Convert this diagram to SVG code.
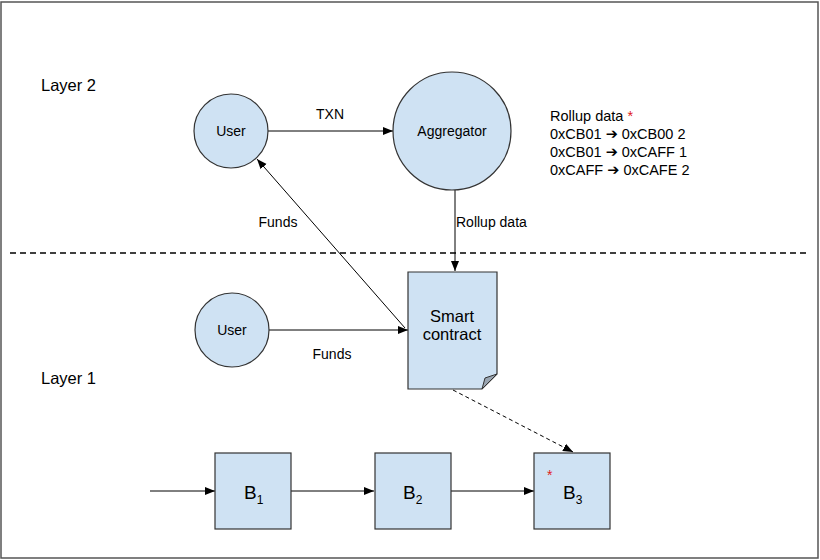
<svg xmlns="http://www.w3.org/2000/svg" width="820" height="560" viewBox="0 0 820 560">
<style>
.n{fill:#cfe2f3;stroke:#333;stroke-width:1.2}
.t{font-family:"Liberation Sans",Arial,sans-serif;fill:#000}
.c{stroke:#000;stroke-width:1;fill:none}
</style>
<defs>
<marker id="a" viewBox="0 0 10 10" refX="10" refY="5" markerWidth="10" markerHeight="10" markerUnits="userSpaceOnUse" orient="auto"><path d="M0,1 L10,5 L0,9 z" fill="#000"/></marker>
</defs>
<rect x="1" y="2" width="817" height="556" fill="#fff" stroke="#555" stroke-width="1.5"/>
<line x1="10" y1="253" x2="808" y2="253" stroke="#000" stroke-width="1.5" stroke-dasharray="6,4"/>
<text class="t" x="41" y="91" font-size="16.5">Layer 2</text>
<text class="t" x="41" y="384" font-size="16.5">Layer 1</text>
<g id="connectors">
<line class="c" x1="268" y1="131" x2="393" y2="131" marker-end="url(#a)"/>
<text class="t" x="330" y="119" font-size="14" text-anchor="middle">TXN</text>
<line class="c" x1="455" y1="190" x2="455" y2="271" marker-end="url(#a)"/>
<text class="t" x="456" y="227" font-size="14">Rollup data</text>
<line class="c" x1="405" y1="328" x2="257" y2="159" marker-end="url(#a)"/>
<text class="t" x="278" y="227" font-size="14" text-anchor="middle">Funds</text>
<line class="c" x1="269" y1="330" x2="408" y2="330" marker-end="url(#a)"/>
<text class="t" x="332" y="359" font-size="14" text-anchor="middle">Funds</text>
<line class="c" x1="453" y1="390" x2="573" y2="452" stroke-dasharray="4,3" marker-end="url(#a)"/>
<line class="c" x1="150" y1="491" x2="215" y2="491" marker-end="url(#a)"/>
<line class="c" x1="291" y1="491" x2="374" y2="491" marker-end="url(#a)"/>
<line class="c" x1="451" y1="491" x2="534" y2="491" marker-end="url(#a)"/>
</g>
<g id="user2">
<circle class="n" cx="231" cy="131" r="37"/>
<text class="t" x="231" y="136" font-size="14" text-anchor="middle">User</text>
</g>
<g id="aggregator">
<circle class="n" cx="452" cy="131" r="59"/>
<text class="t" x="452" y="136" font-size="14" text-anchor="middle">Aggregator</text>
</g>
<g id="rollup">
<text class="t" x="550" y="121" font-size="14.5">Rollup data <tspan fill="#e02020">*</tspan></text>
<text class="t" x="550" y="139" font-size="14.5">0xCB01 <tspan font-family="DejaVu Sans" font-weight="bold">➔</tspan> 0xCB00 2</text>
<text class="t" x="550" y="157" font-size="14.5">0xCB01 <tspan font-family="DejaVu Sans" font-weight="bold">➔</tspan> 0xCAFF 1</text>
<text class="t" x="550" y="175" font-size="14.5">0xCAFF <tspan font-family="DejaVu Sans" font-weight="bold">➔</tspan> 0xCAFE 2</text>
</g>
<g id="user1">
<circle class="n" cx="232" cy="330" r="37"/>
<text class="t" x="232" y="335" font-size="14" text-anchor="middle">User</text>
</g>
<g id="smartcontract">
<path class="n" d="M408,272 H497 V374 L482,389 H408 Z"/>
<path d="M497,374 L485,378 L482,389 Z" fill="#9aa5b1" stroke="#333" stroke-width="1"/>
<text class="t" x="452" y="322" font-size="16.5" text-anchor="middle">Smart</text>
<text class="t" x="452" y="340" font-size="16.5" text-anchor="middle">contract</text>
</g>
<g id="b1">
<rect class="n" x="215" y="453" width="76" height="76"/>
<text class="t" x="244" y="499" font-size="19">B<tspan font-size="12" dy="5">1</tspan></text>
</g>
<g id="b2">
<rect class="n" x="375" y="453" width="76" height="76"/>
<text class="t" x="403" y="499" font-size="19">B<tspan font-size="12" dy="5">2</tspan></text>
</g>
<g id="b3">
<rect class="n" x="534" y="453" width="76" height="76"/>
<text class="t" x="563" y="499" font-size="19">B<tspan font-size="12" dy="5">3</tspan></text>
<text class="t" x="547" y="480" font-size="14" style="fill:#e02020">*</text>
</g>
</svg>
